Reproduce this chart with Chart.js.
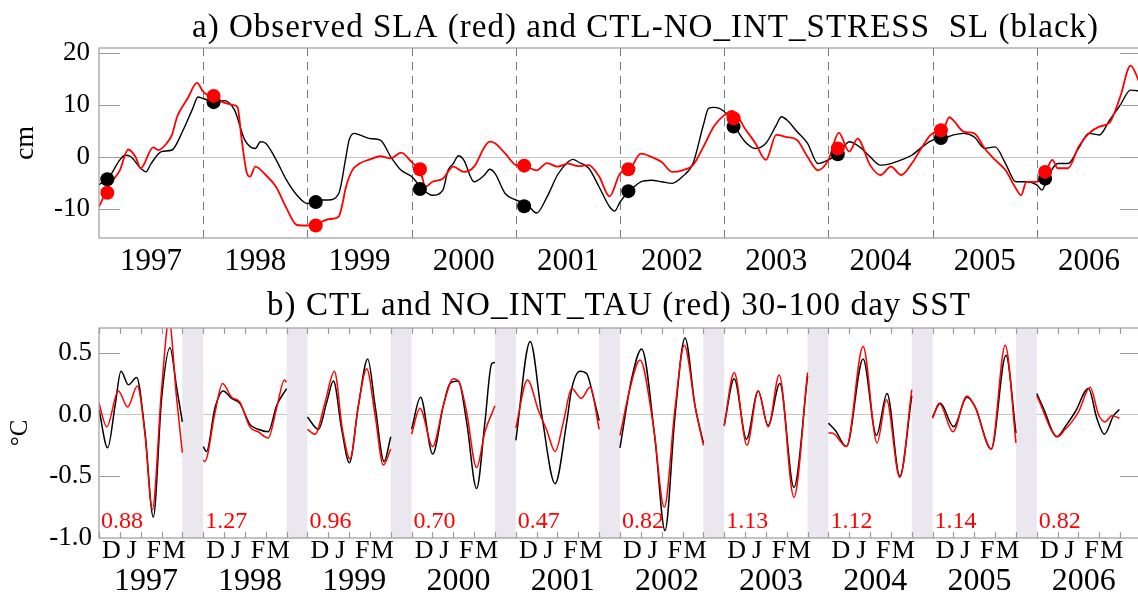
<!DOCTYPE html>
<html>
<head>
<meta charset="utf-8">
<script src="https://cdn.jsdelivr.net/npm/chart.js@4.4.1/dist/chart.umd.min.js"></script>
<style>
  html, body { margin: 0; padding: 0; background: #fff; overflow: hidden; }
  #wrap { position: relative; width: 1138px; height: 604px; overflow: hidden; }
  #chartA { position: absolute; left: 0; top: 0; }
  #chartB { position: absolute; left: 0; top: 285px; }
</style>
</head>
<body>
<div id="wrap">
  <canvas id="chartA" width="1160" height="285"></canvas>
  <canvas id="chartB" width="1160" height="319"></canvas>
</div>
<script>
const SERIF = '"Liberation Serif", "Times New Roman", serif';

// ---- panel a : sea level anomaly (cm) ----
const seasonYears = [1997, 1998, 1999, 2000, 2001, 2002, 2003, 2004, 2005, 2006];
const slaTicks = [20, 10, 0, -10];

const slaObsTime = [1997.0, 1997.1, 1997.2, 1997.28, 1997.35, 1997.4, 1997.52, 1997.57, 1997.65, 1997.7,
  1997.75, 1997.8, 1997.85, 1997.94, 1998.0, 1998.03, 1998.1, 1998.2, 1998.3, 1998.33,
  1998.37, 1998.42, 1998.45, 1998.5, 1998.6, 1998.7, 1998.8, 1998.9, 1999.0, 1999.1,
  1999.2, 1999.3, 1999.33, 1999.37, 1999.43, 1999.5, 1999.6, 1999.7, 1999.8, 1999.9,
  2000.0, 2000.05, 2000.1, 2000.13, 2000.2, 2000.3, 2000.4, 2000.5, 2000.6, 2000.7,
  2000.75, 2000.8, 2000.9, 2001.0, 2001.1, 2001.2, 2001.3, 2001.4, 2001.5, 2001.6,
  2001.7, 2001.8, 2001.9, 2002.0, 2002.1, 2002.2, 2002.3, 2002.4, 2002.5, 2002.6,
  2002.7, 2002.8, 2002.9, 2003.0, 2003.08, 2003.2, 2003.3, 2003.4, 2003.5, 2003.6,
  2003.7, 2003.8, 2003.9, 2004.0, 2004.1, 2004.2, 2004.28, 2004.4, 2004.5, 2004.6,
  2004.7, 2004.8, 2004.9, 2005.0, 2005.1, 2005.16, 2005.2, 2005.3, 2005.4, 2005.5,
  2005.6, 2005.7, 2005.8, 2005.85, 2005.9, 2006.0, 2006.1, 2006.15, 2006.2, 2006.3,
  2006.4, 2006.5, 2006.6, 2006.7, 2006.8, 2006.9, 2007.0];
const slaObsValue = [-9.6, -5.4, -2.6, 1.4, 0.0, -2.2, 1.8, 1.3, 2.6, 4.2,
  7.7, 9.6, 11.2, 14.2, 12.5, 12.0, 11.5, 10.4, 9.9, 9.5,
  3.2, -3.2, -3.8, -1.9, -3.5, -5.8, -9.9, -13.1, -13.2, -12.8,
  -12.0, -11.5, -9.6, -5.8, -2.6, -1.3, -0.5, 0.1, -0.3, 0.8,
  -1.0, -2.0, -3.8, -5.8, -4.8, -4.2, -1.9, -2.9, -1.9, 1.9,
  2.9, 2.6, 0.6, -1.6, -1.9, -2.6, -1.2, -1.9, -1.3, -1.8,
  -1.6, -3.8, -7.6, -3.2, -2.2, 0.6, 0.0, -1.0, -2.9, -2.6,
  -1.6, 1.9, 5.8, 8.0, 8.8, 5.4, 2.6, -0.6, 4.2, 3.8,
  3.2, 0.0, -2.6, -0.6, 4.6, 1.0, 3.5, -1.6, -3.5, -1.9,
  -3.5, -1.3, 1.9, 4.5, 5.1, 7.6, 7.0, 4.8, 4.5, 1.6,
  -0.6, -2.6, -6.1, -7.4, -4.8, -4.8, -2.2, -0.6, -2.2, -2.2,
  1.9, 4.5, 5.8, 6.6, 11.5, 17.5, 13.5];

const slaModelTime = [1997.0, 1997.1, 1997.2, 1997.25, 1997.3, 1997.4, 1997.45, 1997.5, 1997.6, 1997.7,
  1997.8, 1997.9, 1997.95, 1998.0, 1998.1, 1998.2, 1998.3, 1998.4, 1998.5, 1998.55,
  1998.6, 1998.7, 1998.8, 1998.9, 1999.0, 1999.1, 1999.2, 1999.3, 1999.37, 1999.4,
  1999.45, 1999.5, 1999.6, 1999.7, 1999.8, 1999.9, 2000.0, 2000.1, 2000.2, 2000.3,
  2000.35, 2000.4, 2000.45, 2000.5, 2000.6, 2000.7, 2000.75, 2000.8, 2000.9, 2001.0,
  2001.1, 2001.2, 2001.3, 2001.4, 2001.5, 2001.55, 2001.6, 2001.7, 2001.8, 2001.9,
  2001.95, 2002.0, 2002.1, 2002.2, 2002.3, 2002.4, 2002.5, 2002.6, 2002.7, 2002.8,
  2002.85, 2002.9, 2003.0, 2003.1, 2003.2, 2003.3, 2003.4, 2003.5, 2003.55, 2003.6,
  2003.7, 2003.8, 2003.9, 2004.0, 2004.1, 2004.2, 2004.3, 2004.4, 2004.5, 2004.6,
  2004.7, 2004.8, 2004.9, 2005.0, 2005.1, 2005.2, 2005.3, 2005.4, 2005.5, 2005.6,
  2005.7, 2005.8, 2005.9, 2006.0, 2006.05, 2006.1, 2006.2, 2006.3, 2006.4, 2006.5,
  2006.6, 2006.7, 2006.8, 2006.9, 2007.0];
const slaModelValue = [-5.4, -3.8, -0.6, 0.3, 0.1, -2.2, -2.9, -1.3, 1.0, 1.3,
  4.8, 9.3, 11.5, 11.2, 10.6, 10.8, 9.0, 3.2, 1.6, 2.9,
  2.6, -0.6, -4.5, -7.4, -9.0, -8.3, -8.3, -7.1, 0.0, 3.2,
  4.5, 4.2, 3.5, 3.2, 0.0, -2.6, -3.8, -6.1, -7.4, -6.4,
  -2.6, -1.3, 0.2, -0.6, -4.8, -3.5, -2.4, -3.2, -7.1, -8.3,
  -9.0, -10.8, -7.7, -3.5, -1.0, -0.5, -1.0, -2.2, -5.8, -9.6,
  -10.4, -8.7, -6.4, -4.8, -4.5, -4.8, -5.1, -3.8, -1.3, 6.1,
  9.3, 9.5, 8.7, 5.8, 2.9, 1.6, 2.6, 6.1, 7.7, 7.1,
  4.8, 2.6, -1.3, -0.6, 0.6, 2.9, 1.9, 0.0, -1.6, -1.3,
  -0.6, 0.3, 1.9, 3.2, 3.5, 4.2, 4.5, 3.8, 1.6, 1.9,
  -1.3, -4.8, -4.8, -5.4, -6.4, -4.2, -1.3, -1.3, 1.6, 4.5,
  4.2, 7.1, 9.9, 12.8, 12.6];

// winter means marked as dots
const dotTime = [1997.08, 1998.10, 1999.08, 2000.08, 2001.08, 2002.08, 2003.09, 2004.09, 2005.08, 2006.08];
const dotObs = [-6.9, 11.7, -13.2, -2.4, -1.7, -2.4, 7.4, 1.6, 5.1, -2.9];
const dotModel = [-4.3, 10.5, -8.7, -6.2, -9.5, -6.6, 5.8, 0.5, 3.6, -4.2];

// ---- panel b : 30-100 day SST (degC), one DJFM window per year ----
const sstTicks = [0.5, 0.0, -0.5, -1.0];
const monthLabels = ['D', 'J', 'F', 'M'];
const monthOffsets = [0.12, 0.315, 0.525, 0.72];
const windowLength = 0.8;
const ratioLabels = ['0.88', '1.27', '0.96', '0.70', '0.47', '0.82', '1.13', '1.12', '1.14', '0.82'];

const ctlOffset = [
  [0, 0.083, 0.154, 0.211, 0.282, 0.361, 0.441, 0.521, 0.601, 0.681, 0.745, 0.8],
  [0, 0.032, 0.112, 0.192, 0.272, 0.352, 0.448, 0.528, 0.624, 0.704, 0.8],
  [0, 0.106, 0.186, 0.25, 0.329, 0.403, 0.489, 0.579, 0.65, 0.736, 0.8],
  [0, 0.086, 0.202, 0.304, 0.368, 0.448, 0.528, 0.624, 0.704, 0.768, 0.8],
  [0, 0.138, 0.25, 0.377, 0.489, 0.537, 0.617, 0.681, 0.745, 0.8],
  [0, 0.112, 0.208, 0.336, 0.432, 0.528, 0.624, 0.72, 0.8],
  [0, 0.096, 0.214, 0.326, 0.422, 0.534, 0.669, 0.8],
  [0, 0.067, 0.173, 0.333, 0.461, 0.563, 0.685, 0.8],
  [0, 0.074, 0.202, 0.329, 0.409, 0.563, 0.704, 0.8],
  [0, 0.064, 0.192, 0.288, 0.368, 0.496, 0.576, 0.649, 0.736, 0.793]
];
const ctlValue = [
  [0.04, -0.27, 0.07, 0.35, 0.24, 0.30, -0.14, -0.83, 0.13, 0.54, 0.22, -0.06],
  [-0.26, -0.30, 0.05, 0.19, 0.13, 0.09, -0.08, -0.12, -0.14, 0.07, 0.21],
  [-0.02, -0.12, 0.10, 0.27, -0.12, -0.39, 0.07, 0.45, 0.07, -0.38, -0.18],
  [-0.12, 0.14, -0.32, 0.07, 0.25, 0.27, -0.06, -0.60, -0.06, 0.41, 0.42],
  [-0.21, 0.59, -0.01, -0.56, -0.06, 0.21, 0.35, 0.33, 0.14, -0.05],
  [-0.27, 0.29, 0.53, -0.20, -0.94, -0.01, 0.62, 0.07, -0.23],
  [-0.09, 0.29, -0.20, 0.19, -0.09, 0.25, -0.59, 0.31],
  [-0.07, -0.13, -0.26, 0.45, -0.17, 0.17, -0.50, 0.15],
  [-0.02, 0.09, -0.10, 0.14, 0.06, -0.28, 0.48, -0.15],
  [0.17, 0.05, -0.18, -0.08, 0.02, 0.21, -0.03, -0.16, -0.01, 0.04]
];
const noIntOffset = [
  [0, 0.074, 0.186, 0.275, 0.368, 0.441, 0.512, 0.601, 0.672, 0.745, 0.8],
  [0, 0.016, 0.112, 0.186, 0.272, 0.352, 0.448, 0.528, 0.624, 0.704, 0.78, 0.8],
  [0, 0.074, 0.170, 0.259, 0.336, 0.409, 0.489, 0.569, 0.65, 0.729, 0.8],
  [0, 0.080, 0.202, 0.304, 0.400, 0.457, 0.528, 0.624, 0.704, 0.8],
  [0, 0.112, 0.218, 0.298, 0.377, 0.457, 0.537, 0.627, 0.713, 0.8],
  [0, 0.096, 0.192, 0.320, 0.425, 0.528, 0.617, 0.72, 0.8],
  [0, 0.096, 0.218, 0.326, 0.422, 0.528, 0.669, 0.8],
  [0, 0.035, 0.173, 0.333, 0.467, 0.557, 0.685, 0.8],
  [0, 0.064, 0.195, 0.329, 0.409, 0.563, 0.697, 0.8],
  [0, 0.202, 0.272, 0.336, 0.400, 0.512, 0.592, 0.656, 0.720, 0.793]
];
const noIntValue = [
  [0.09, -0.10, 0.19, 0.06, 0.23, -0.16, -0.77, 0.21, 0.76, 0.13, -0.31],
  [-0.37, -0.38, 0.01, 0.25, 0.14, 0.10, -0.10, -0.14, -0.19, 0.05, 0.28, 0.26],
  [-0.12, -0.16, 0.10, 0.35, -0.12, -0.36, 0.07, 0.37, -0.01, -0.41, -0.28],
  [-0.16, 0.05, -0.26, 0.07, 0.29, 0.26, 0.02, -0.43, -0.14, 0.07],
  [-0.11, 0.28, 0.03, -0.13, -0.30, -0.06, 0.21, 0.13, 0.22, -0.12],
  [-0.17, 0.21, 0.44, -0.09, -0.75, 0.05, 0.56, 0.07, -0.25],
  [-0.09, 0.34, -0.25, 0.19, -0.10, 0.32, -0.67, 0.34],
  [-0.15, -0.15, -0.26, 0.55, -0.23, 0.12, -0.51, 0.20],
  [-0.03, 0.09, -0.14, 0.15, 0.06, -0.28, 0.56, -0.23],
  [0.15, -0.18, -0.12, -0.06, 0.02, 0.22, 0.00, -0.06, -0.01, -0.03]
];

const FRAME = '#9c9c9c';

function pairs(xs, ys) {
  return xs.map((x, i) => ({ x: x, y: ys[i] }));
}

// each DJFM window becomes its own piece of line; a null ends the piece
function windowSeries(offsets, values) {
  let out = [];
  for (let i = 0; i < seasonYears.length; i++) {
    for (let k = 0; k < offsets[i].length; k++) {
      out.push({ x: seasonYears[i] + offsets[i][k], y: values[i][k] });
    }
    out.push({ x: seasonYears[i] + 0.9, y: null });
  }
  return out;
}

// title stretched to the width it takes in the figure
function drawTitle(ctx, text, left, baseline, size, width) {
  ctx.save();
  ctx.font = size + 'px ' + SERIF;
  ctx.fillStyle = '#000';
  ctx.textAlign = 'left';
  ctx.textBaseline = 'alphabetic';
  let w = ctx.measureText(text).width;
  ctx.letterSpacing = ((width - w) / (text.length - 1)).toFixed(2) + 'px';
  ctx.fillText(text, left, baseline);
  ctx.restore();
}

function drawFrame(ctx, area) {
  ctx.strokeStyle = FRAME;
  ctx.lineWidth = 1.2;
  ctx.strokeRect(area.left, area.top, area.right - area.left, area.bottom - area.top);
}

function drawYTicks(ctx, chart, ticks) {
  let a = chart.chartArea;
  let y = chart.scales.y;
  ctx.strokeStyle = FRAME;
  ctx.lineWidth = 1.2;
  ticks.forEach(v => {
    let py = Math.round(y.getPixelForValue(v)) + 0.5;
    ctx.beginPath();
    ctx.moveTo(a.left, py); ctx.lineTo(a.left + 21, py);
    ctx.moveTo(a.right, py); ctx.lineTo(a.right - 21, py);
    ctx.stroke();
  });
}

function drawZero(ctx, chart) {
  let a = chart.chartArea;
  let py = Math.round(chart.scales.y.getPixelForValue(0)) + 0.5;
  ctx.strokeStyle = '#c6c6c6';
  ctx.lineWidth = 1;
  ctx.beginPath();
  ctx.moveTo(a.left, py); ctx.lineTo(a.right, py);
  ctx.stroke();
}

const decorA = {
  id: 'decorA',
  beforeDatasetsDraw(chart) {
    let ctx = chart.ctx, a = chart.chartArea, x = chart.scales.x;
    ctx.save();
    drawZero(ctx, chart);
    ctx.strokeStyle = '#7a7a7a';
    ctx.lineWidth = 1;
    ctx.setLineDash([8, 6]);
    for (let i = 1; i < seasonYears.length; i++) {
      let px = Math.round(x.getPixelForValue(seasonYears[i])) + 0.5;
      ctx.beginPath();
      ctx.moveTo(px, a.top); ctx.lineTo(px, a.bottom);
      ctx.stroke();
    }
    ctx.restore();
  },
  afterDatasetsDraw(chart) {
    let ctx = chart.ctx;
    ctx.save();
    drawFrame(ctx, chart.chartArea);
    drawYTicks(ctx, chart, slaTicks);
    ctx.restore();
    drawTitle(ctx, 'a) Observed SLA (red) and CTL-NO_INT_STRESS  SL (black)', 192, 37, 33, 906);
  }
};

const decorB = {
  id: 'decorB',
  beforeDatasetsDraw(chart) {
    let ctx = chart.ctx, a = chart.chartArea, x = chart.scales.x;
    ctx.save();
    drawZero(ctx, chart);
    // grey gaps between the winter windows (none after the last one)
    ctx.fillStyle = '#ebe7ef';
    seasonYears.slice(0, -1).forEach(yr => {
      let p0 = x.getPixelForValue(yr + windowLength);
      let p1 = x.getPixelForValue(yr + 1);
      ctx.fillRect(p0, a.top, p1 - p0, a.bottom - a.top);
    });
    ctx.restore();
  },
  afterDatasetsDraw(chart) {
    let ctx = chart.ctx, a = chart.chartArea, x = chart.scales.x;
    ctx.save();
    drawFrame(ctx, a);
    drawYTicks(ctx, chart, [0.5, -0.5]);
    // small month ticks on top and bottom edges
    ctx.strokeStyle = FRAME;
    ctx.lineWidth = 1.2;
    seasonYears.forEach(yr => {
      for (let m = 0; m <= 4; m++) {
        let px = Math.round(x.getPixelForValue(yr + m * windowLength / 4)) + 0.5;
        ctx.beginPath();
        ctx.moveTo(px, a.top); ctx.lineTo(px, a.top + 6);
        ctx.moveTo(px, a.bottom); ctx.lineTo(px, a.bottom - 6);
        ctx.stroke();
      }
    });
    // ratio of the two series for each winter
    ctx.fillStyle = '#ff0000';
    ctx.font = '24px ' + SERIF;
    ctx.textAlign = 'left';
    ctx.textBaseline = 'alphabetic';
    seasonYears.forEach((yr, i) => {
      ctx.fillText(ratioLabels[i], x.getPixelForValue(yr) + 2, a.bottom - 10);
    });
    ctx.restore();
    drawTitle(ctx, 'b) CTL and NO_INT_TAU (red) 30-100 day SST', 267, 30, 33, 703);
  }
};

const hidden = { display: false, drawTicks: false };

new Chart('chartA', {
  type: 'line',
  data: {
    datasets: [
      { data: pairs(dotTime, dotObs), showLine: false, pointRadius: 7, pointBackgroundColor: '#ff0000', pointBorderWidth: 0 },
      { data: pairs(dotTime, dotModel), showLine: false, pointRadius: 7, pointBackgroundColor: '#000', pointBorderWidth: 0 },
      { data: pairs(slaObsTime, slaObsValue), borderColor: '#ff0000', borderWidth: 1.8, pointRadius: 0, cubicInterpolationMode: 'monotone' },
      { data: pairs(slaModelTime, slaModelValue), borderColor: '#000', borderWidth: 1.4, pointRadius: 0, cubicInterpolationMode: 'monotone' }
    ]
  },
  options: {
    responsive: false,
    animation: false,
    events: [],
    layout: { padding: { top: 48, right: 19, left: 0, bottom: 0 } },
    plugins: { legend: { display: false }, tooltip: { enabled: false } },
    scales: {
      x: {
        type: 'linear', min: 1997, max: 2007,
        afterBuildTicks: s => { s.ticks = seasonYears.map(y => ({ value: y + 0.5 })); },
        afterFit: s => { s.height = 47; },
        ticks: { callback: v => String(Math.floor(v)), font: { family: SERIF, size: 31, lineHeight: 1 }, color: '#000', padding: 8, maxRotation: 0, autoSkip: false },
        grid: hidden, border: { display: false }
      },
      y: {
        min: -15.6, max: 20.9,
        afterBuildTicks: s => { s.ticks = slaTicks.map(v => ({ value: v })); },
        afterFit: s => { s.width = 99; },
        ticks: { font: { family: SERIF, size: 27 }, color: '#000', padding: 9 },
        grid: hidden, border: { display: false },
        title: { display: true, text: 'cm', font: { family: SERIF, size: 28, lineHeight: 1.2 }, color: '#000', padding: { top: 9, bottom: 0 } }
      }
    }
  },
  plugins: [decorA]
});

new Chart('chartB', {
  type: 'line',
  data: {
    datasets: [
      { data: windowSeries(noIntOffset, noIntValue), borderColor: '#ff0000', borderWidth: 1.5, pointRadius: 0, cubicInterpolationMode: 'monotone', spanGaps: false },
      { data: windowSeries(ctlOffset, ctlValue), borderColor: '#000', borderWidth: 1.5, pointRadius: 0, cubicInterpolationMode: 'monotone', spanGaps: false }
    ]
  },
  options: {
    responsive: false,
    animation: false,
    events: [],
    layout: { padding: { top: 43, right: 19, left: 0, bottom: 0 } },
    plugins: { legend: { display: false }, tooltip: { enabled: false } },
    scales: {
      x: {
        type: 'linear', min: 1997, max: 2007,
        afterBuildTicks: s => {
          let t = [];
          seasonYears.forEach(y => monthOffsets.forEach(m => t.push({ value: y + m })));
          s.ticks = t;
        },
        afterFit: s => { s.height = 26; },
        ticks: { callback: (v, i) => monthLabels[i % 4], font: { family: SERIF, size: 26, lineHeight: 1 }, color: '#000', padding: 0, maxRotation: 0, autoSkip: false },
        grid: hidden, border: { display: false }
      },
      xYear: {
        type: 'linear', axis: 'x', position: 'bottom', min: 1997, max: 2007,
        afterBuildTicks: s => { s.ticks = seasonYears.map(y => ({ value: y + 0.45 })); },
        afterFit: s => { s.height = 40; },
        ticks: { callback: v => String(Math.round(v - 0.45)), font: { family: SERIF, size: 32, lineHeight: 1 }, color: '#000', padding: 2, maxRotation: 0, autoSkip: false },
        grid: hidden, border: { display: false }
      },
      y: {
        min: -1.0, max: 0.7,
        afterBuildTicks: s => { s.ticks = sstTicks.map(v => ({ value: v })); },
        afterFit: s => { s.width = 99; },
        ticks: { callback: v => v.toFixed(1), font: { family: SERIF, size: 27 }, color: '#000', padding: 7 },
        grid: hidden, border: { display: false },
        title: { display: true, text: '°C', font: { family: SERIF, size: 25, lineHeight: 1.2 }, color: '#000', padding: { top: 5, bottom: 0 } }
      }
    }
  },
  plugins: [decorB]
});
</script>
</body>
</html>
